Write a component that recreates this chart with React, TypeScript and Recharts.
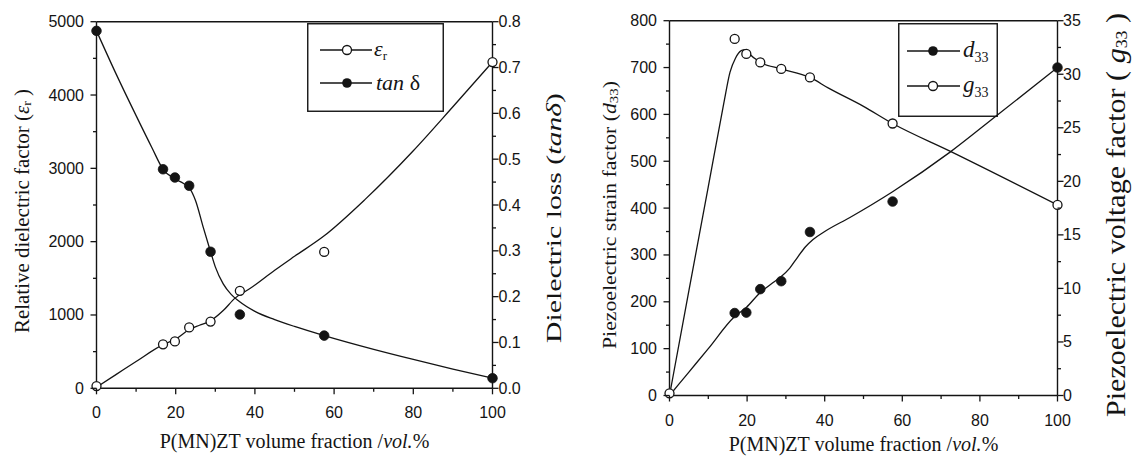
import React from 'react';
import { ComposedChart, Line, Scatter, XAxis, YAxis, ReferenceLine, Legend } from 'recharts';

// ---------- shared categories (P(MN)ZT vol.%) ----------
const compositions = [0, 16.8, 19.8, 23.4, 28.8, 36.2, 57.5, 100];

// ---------- left panel: measured points ----------
const epsR = [30, 600, 640, 830, 910, 1330, 1860, 4450];
const tanDelta = [0.78, 0.478, 0.46, 0.442, 0.298, 0.161, 0.115, 0.022];

// ---------- left panel: fitted curves ----------
const epsFitX = [0, 5, 10, 16.8, 19.8, 23.4, 26, 28.8, 32, 35, 38.75, 45, 50, 57.5, 67.9, 80, 90, 100];
const epsFitY = [15, 190, 365, 595, 665, 800, 860, 920, 1060, 1230, 1360, 1610, 1800, 2080, 2580, 3240, 3840, 4450];
const tanFitX = [0, 5, 10, 14, 16.8, 19.8, 22, 23.4, 25, 27, 28.8, 30, 32, 34, 36, 40, 45, 50, 57.5, 70, 80, 90, 100];
const tanFitY = [0.78, 0.685, 0.595, 0.525, 0.478, 0.457, 0.447, 0.438, 0.41, 0.35, 0.298, 0.265, 0.228, 0.205, 0.19, 0.168, 0.15, 0.135, 0.115, 0.085, 0.063, 0.042, 0.022];

// ---------- right panel: measured points ----------
const d33Values = [null, 176, 177, 227, 244, 349, 414, 700];
const g33Values = [0.2, 33.3, 31.9, 31.1, 30.5, 29.7, 25.4, 17.8];

// ---------- right panel: fitted curves ----------
const d33FitX = [0, 5, 10, 16.6, 19.8, 23.4, 26.7, 28.8, 31, 33, 35, 37, 40, 46.5, 57.5, 72.4, 84.1, 100];
const d33FitY = [0, 50, 100, 167, 188, 220, 241, 254, 272, 295, 317, 333, 350, 380, 435, 520, 596, 700];
const g33FitX = [0, 5, 10, 14, 15.6, 17, 18.5, 19.5, 20, 23.5, 28.8, 36.2, 41, 50, 57.5, 72.4, 100];
const g33FitY = [0, 9.8, 19.5, 27.3, 30.2, 31.5, 32.2, 32.3, 32.1, 31.1, 30.5, 29.7, 28.7, 27, 25.4, 22.8, 17.8];

// ---------- ticks ----------
const xTicks = [0, 10, 20, 30, 40, 50, 60, 70, 80, 90, 100];
const xMajor = [0, 20, 40, 60, 80, 100];
const epsTicks = [0, 500, 1000, 1500, 2000, 2500, 3000, 3500, 4000, 4500, 5000];
const epsMajor = [0, 1000, 2000, 3000, 4000, 5000];
const tanTicks = [0, 0.05, 0.1, 0.15, 0.2, 0.25, 0.3, 0.35, 0.4, 0.45, 0.5, 0.55, 0.6, 0.65, 0.7, 0.75, 0.8];
const tanMajor = [0, 0.1, 0.2, 0.3, 0.4, 0.5, 0.6, 0.7, 0.8];
const d33Ticks = [0, 50, 100, 150, 200, 250, 300, 350, 400, 450, 500, 550, 600, 650, 700, 750, 800];
const d33Major = [0, 100, 200, 300, 400, 500, 600, 700, 800];
const g33Ticks = [0, 2.5, 5, 7.5, 10, 12.5, 15, 17.5, 20, 22.5, 25, 27.5, 30, 32.5, 35];
const g33Major = [0, 5, 10, 15, 20, 25, 30, 35];

const toXY = (xs: number[], ys: (number | null)[]) =>
  xs.map((x, i) => ({ x, y: ys[i] })).filter((d) => d.y !== null && d.y !== undefined);

const epsPts = toXY(compositions, epsR);
const tanPts = toXY(compositions, tanDelta);
const epsFit = toXY(epsFitX, epsFitY);
const tanFit = toXY(tanFitX, tanFitY);
const d33Pts = toXY(compositions, d33Values);
const g33Pts = toXY(compositions, g33Values);
const d33Fit = toXY(d33FitX, d33FitY);
const g33Fit = toXY(g33FitX, g33FitY);

const INK = '#141414';
const SANS = '"Liberation Sans", Arial, sans-serif';
const SERIF = '"Liberation Serif", "Times New Roman", serif';

type Side = 'left' | 'right' | 'bottom';
const makeTick = (side: Side, majors: number[], fmt: (v: number) => string, gap: number) => (props: any) => {
  const { x, y, payload } = props;
  const v = Number(payload.value);
  const major = majors.some((m) => Math.abs(m - v) < 1e-9);
  const len = major ? 6 : 3.5;
  if (side === 'bottom') {
    return (
      <g>
        <line x1={x} x2={x} y1={y} y2={y + len} stroke={INK} strokeWidth={1.3} />
        {major && (
          <text x={x} y={y + gap} textAnchor="middle" dominantBaseline="central" fontFamily={SANS} fontSize={16} fill={INK}>
            {fmt(v)}
          </text>
        )}
      </g>
    );
  }
  const dir = side === 'left' ? -1 : 1;
  return (
    <g>
      <line x1={x} x2={x + dir * len} y1={y} y2={y} stroke={INK} strokeWidth={1.3} />
      {major && (
        <text x={x + dir * gap} y={y} textAnchor={side === 'left' ? 'end' : 'start'} dominantBaseline="central" fontFamily={SANS} fontSize={16} fill={INK}>
          {fmt(v)}
        </text>
      )}
    </g>
  );
};

const OpenDot = (p: any) => <circle cx={p.cx} cy={p.cy} r={4.5} fill="#fff" stroke={INK} strokeWidth={1.3} />;
const FilledDot = (p: any) => <circle cx={p.cx} cy={p.cy} r={4.8} fill={INK} stroke={INK} strokeWidth={0.8} />;

const LeftLegend = () => (
  <svg width={137} height={89} style={{ display: 'block', overflow: 'visible' }}>
    <rect x={0.75} y={0.75} width={135.5} height={87.5} fill="none" stroke={INK} strokeWidth={1.4} />
    <line x1={13} x2={65} y1={27} y2={27} stroke={INK} strokeWidth={1.3} />
    <circle cx={40} cy={27} r={4.5} fill="#fff" stroke={INK} strokeWidth={1.3} />
    <text x={67} y={33} fontFamily={SERIF} fontSize={22} fill={INK}>
      <tspan fontStyle="italic">ε</tspan>
      <tspan fontSize={13} dy={4}>r</tspan>
    </text>
    <line x1={13} x2={65} y1={60} y2={60} stroke={INK} strokeWidth={1.3} />
    <circle cx={40} cy={60} r={4.8} fill={INK} />
    <text x={69} y={67} fontFamily={SERIF} fontSize={22} fill={INK}>
      <tspan fontStyle="italic">tan</tspan>
      <tspan> δ</tspan>
    </text>
  </svg>
);

const RightLegend = () => (
  <svg width={100} height={94} style={{ display: 'block', overflow: 'visible' }}>
    <rect x={0.75} y={0.75} width={98.5} height={92.5} fill="none" stroke={INK} strokeWidth={1.4} />
    <line x1={9} x2={62} y1={28} y2={28} stroke={INK} strokeWidth={1.3} />
    <circle cx={35} cy={28} r={4.8} fill={INK} />
    <text x={65} y={34} fontFamily={SERIF} fontSize={23} fill={INK}>
      <tspan fontStyle="italic">d</tspan>
      <tspan fontSize={14} dy={5}>33</tspan>
    </text>
    <line x1={9} x2={62} y1={63} y2={63} stroke={INK} strokeWidth={1.3} />
    <circle cx={35} cy={63} r={4.5} fill="#fff" stroke={INK} strokeWidth={1.3} />
    <text x={65} y={69} fontFamily={SERIF} fontSize={23} fill={INK}>
      <tspan fontStyle="italic">g</tspan>
      <tspan fontSize={14} dy={5}>33</tspan>
    </text>
  </svg>
);

const XTitle = (cx: number, cy: number) => () => (
  <text x={cx} y={cy} textAnchor="middle" dominantBaseline="central" fontFamily={SERIF} fontSize={20} fill={INK}>
    P(MN)ZT volume fraction /<tspan fontStyle="italic">vol.</tspan>%
  </text>
);

const LeftPanel = () => (
  <ComposedChart width={568} height={463} margin={{ top: 21.7, right: 0, bottom: 0, left: 0 }}>
    <XAxis
      type="number"
      dataKey="x"
      domain={[0, 100]}
      ticks={xTicks}
      interval={0}
      height={74.7}
      tickSize={0}
      tickMargin={0}
      tickLine={false}
      axisLine={{ stroke: INK, strokeWidth: 1.4 }}
      tick={makeTick('bottom', xMajor, (v) => String(v), 24)}
      label={{ content: XTitle(294.5, 441) }}
    />
    <YAxis
      yAxisId="eps"
      dataKey="y"
      type="number"
      domain={[0, 5000]}
      ticks={epsTicks}
      interval={0}
      width={96.5}
      tickSize={0}
      tickMargin={0}
      tickLine={false}
      axisLine={{ stroke: INK, strokeWidth: 1.4 }}
      tick={makeTick('left', epsMajor, (v) => String(v), 12.5)}
      label={{
        content: () => (
          <text
            transform="rotate(-90 22 211)"
            x={22}
            y={211}
            textAnchor="middle"
            dominantBaseline="central"
            fontFamily={SERIF}
            fontSize={20}
            fill={INK}
            textLength={244}
            lengthAdjust="spacingAndGlyphs"
          >
            Relative dielectric factor (<tspan fontStyle="italic">ε</tspan>
            <tspan fontSize={13} dy={4}>r</tspan>
            <tspan dy={-4}> )</tspan>
          </text>
        ),
      }}
    />
    <YAxis
      yAxisId="tan"
      orientation="right"
      dataKey="y"
      type="number"
      domain={[0, 0.8]}
      ticks={tanTicks}
      interval={0}
      width={75.5}
      tickSize={0}
      tickMargin={0}
      tickLine={false}
      axisLine={{ stroke: INK, strokeWidth: 1.4 }}
      tick={makeTick('right', tanMajor, (v) => v.toFixed(1), 6)}
      label={{
        content: () => (
          <text
            transform="rotate(-90 554 218)"
            x={554}
            y={218}
            textAnchor="middle"
            dominantBaseline="central"
            fontFamily={SERIF}
            fontSize={21}
            fill={INK}
            textLength={250}
            lengthAdjust="spacingAndGlyphs"
          >
            Dielectric loss (<tspan fontStyle="italic">tanδ</tspan>)
          </text>
        ),
      }}
    />
    <ReferenceLine yAxisId="eps" y={5000} stroke={INK} strokeWidth={1.5} />
    <Line data={epsFit} yAxisId="eps" dataKey="y" type="monotone" dot={false} stroke={INK} strokeWidth={1.3} isAnimationActive={false} legendType="none" />
    <Line data={tanFit} yAxisId="tan" dataKey="y" type="monotone" dot={false} stroke={INK} strokeWidth={1.3} isAnimationActive={false} legendType="none" />
    <Scatter name="εr" data={epsPts} yAxisId="eps" dataKey="y" shape={OpenDot} isAnimationActive={false} />
    <Scatter name="tan δ" data={tanPts} yAxisId="tan" dataKey="y" shape={FilledDot} isAnimationActive={false} />
    <Legend
      layout="vertical"
      align="center"
      verticalAlign="middle"
      content={() => <LeftLegend />}
      wrapperStyle={{ left: 307, top: 23, width: 137, height: 89 }}
    />
  </ComposedChart>
);

const RightPanel = () => (
  <ComposedChart width={568} height={463} margin={{ top: 20.7, right: 0, bottom: 0, left: 0 }}>
    <XAxis
      type="number"
      dataKey="x"
      domain={[0, 100]}
      ticks={xTicks}
      interval={0}
      height={67.5}
      tickSize={0}
      tickMargin={0}
      tickLine={false}
      axisLine={{ stroke: INK, strokeWidth: 1.4 }}
      tick={makeTick('bottom', xMajor, (v) => String(v), 24.5)}
      label={{ content: XTitle(295.5, 444) }}
    />
    <YAxis
      yAxisId="d33"
      dataKey="y"
      type="number"
      domain={[0, 800]}
      ticks={d33Ticks}
      interval={0}
      width={101.5}
      tickSize={0}
      tickMargin={0}
      tickLine={false}
      axisLine={{ stroke: INK, strokeWidth: 1.4 }}
      tick={makeTick('left', d33Major, (v) => String(v), 12.5)}
      label={{
        content: () => (
          <text
            transform="rotate(-90 41 215)"
            x={41}
            y={215}
            textAnchor="middle"
            dominantBaseline="central"
            fontFamily={SERIF}
            fontSize={19}
            fill={INK}
            textLength={268}
            lengthAdjust="spacingAndGlyphs"
          >
            Piezoelectric strain factor (<tspan fontStyle="italic">d</tspan>
            <tspan fontSize={13} dy={4}>33</tspan>
            <tspan dy={-4}>)</tspan>
          </text>
        ),
      }}
    />
    <YAxis
      yAxisId="g33"
      orientation="right"
      dataKey="y"
      type="number"
      domain={[0, 35]}
      ticks={g33Ticks}
      interval={0}
      width={78.5}
      tickSize={0}
      tickMargin={0}
      tickLine={false}
      axisLine={{ stroke: INK, strokeWidth: 1.4 }}
      tick={makeTick('right', g33Major, (v) => String(v), 5.5)}
      label={{
        content: () => (
          <text
            transform="rotate(-90 548 215)"
            x={548}
            y={215}
            textAnchor="middle"
            dominantBaseline="central"
            fontFamily={SERIF}
            fontSize={27}
            fill={INK}
            textLength={404}
            lengthAdjust="spacingAndGlyphs"
          >
            Piezoelectric voltage factor ( <tspan fontStyle="italic">g</tspan>
            <tspan fontSize={16} dy={5}>33</tspan>
            <tspan dy={-5}> )</tspan>
          </text>
        ),
      }}
    />
    <ReferenceLine yAxisId="d33" y={800} stroke={INK} strokeWidth={1.5} />
    <Line data={d33Fit} yAxisId="d33" dataKey="y" type="monotone" dot={false} stroke={INK} strokeWidth={1.3} isAnimationActive={false} legendType="none" />
    <Line data={g33Fit} yAxisId="g33" dataKey="y" type="monotone" dot={false} stroke={INK} strokeWidth={1.3} isAnimationActive={false} legendType="none" />
    <Scatter name="d33" data={d33Pts} yAxisId="d33" dataKey="y" shape={FilledDot} isAnimationActive={false} />
    <Scatter name="g33" data={g33Pts} yAxisId="g33" dataKey="y" shape={OpenDot} isAnimationActive={false} />
    <Legend
      layout="vertical"
      align="center"
      verticalAlign="middle"
      content={() => <RightLegend />}
      wrapperStyle={{ left: 330, top: 23, width: 100, height: 94 }}
    />
  </ComposedChart>
);

export default function App() {
  return (
    <div style={{ position: 'absolute', left: 0, top: 0, width: 1136, height: 463, background: '#fff', display: 'flex' }}>
      <div style={{ width: 568, height: 463 }}>
        <LeftPanel />
      </div>
      <div style={{ width: 568, height: 463 }}>
        <RightPanel />
      </div>
    </div>
  );
}
